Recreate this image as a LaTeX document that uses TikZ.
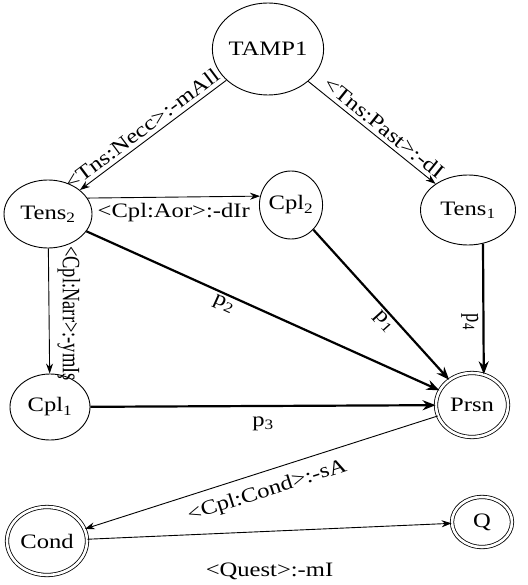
\documentclass[tikz,border=0pt]{standalone}
\usepackage{fontspec}
\setmainfont{Liberation Serif}[FakeStretch=1.2]
% narrower cut of the same face for labels running down the page
\newfontfamily\vertfont{Liberation Serif}[FakeStretch=0.74]
\usetikzlibrary{shapes.geometric,arrows.meta}
\begin{document}
\begin{tikzpicture}[x=1pt,y=-1pt,
  state/.style={ellipse,draw,line width=0.9pt,inner sep=0pt,
    font=\fontsize{20.5}{24}\selectfont},
  final/.style={state,double,double distance=2.6pt,line width=0.8pt},
  tr/.style={-{Stealth[length=10pt,width=7pt]},line width=0.9pt},
  pth/.style={-{Stealth[length=13pt,width=10pt]},line width=2.2pt},
  lbl/.style={font=\fontsize{20.5}{24}\selectfont,inner sep=2pt},
  vlbl/.style={font=\vertfont\fontsize{25}{29}\selectfont,rotate=-90}]
\useasboundingbox (0,0) rectangle (527,585);

% states
\node[state,minimum width=105pt,minimum height=92pt] (tamp) at (268,49) {TAMP1};
\node[state,minimum width=88pt,minimum height=68pt] (tens2) at (48,214) {Tens\textsubscript{2}};
\node[state,minimum width=58pt,minimum height=68pt] (cpl2) at (291,205) {Cpl\textsubscript{2}};
\node[state,minimum width=95pt,minimum height=70pt] (tens1) at (468,210) {Tens\textsubscript{1}};
\node[state,minimum width=80pt,minimum height=66pt] (cpl1) at (50,407) {Cpl\textsubscript{1}};
\node[final,minimum width=72pt,minimum height=64pt] (prsn) at (472,405) {Prsn};
\node[final,minimum width=80pt,minimum height=68pt] (cond) at (47,541) {Cond};
\node[final,minimum width=60pt,minimum height=50pt] (q) at (482,522) {Q};

% morpheme transitions
\draw[tr] (tamp) -- node[lbl,sloped,above=2pt,pos=0.53] {<Tns:Necc>:-mAll} (tens2);
\draw[tr] (tamp) -- node[lbl,sloped,above=2pt,pos=0.54] {<Tns:Past>:-dI} (tens1);
\draw[tr] (tens2.22) -- node[lbl,below=4pt] {<Cpl:Aor>:-dIr} (cpl2.164);
\draw[tr] (tens2) -- node[vlbl,anchor=south,pos=0.52,inner ysep=8pt,inner xsep=0pt] {<Cpl:Narr>:-ymIş} (cpl1);
% paths into the person state
\draw[pth] (tens2) -- node[lbl,sloped,below,pos=0.4] {p\textsubscript{2}} (prsn);
\draw[pth] (cpl2) -- node[lbl,sloped,below,pos=0.57] {p\textsubscript{1}} (prsn);
\draw[pth] (tens1.-66) -- node[vlbl,anchor=north,pos=0.6,inner ysep=4pt] {p\textsubscript{4}} (prsn.69);
\draw[pth] (cpl1) -- node[lbl,below=8pt] {p\textsubscript{3}} (prsn);
% final states
\draw[tr] (prsn) -- node[lbl,sloped,below=8pt] {<Cpl:Cond>:-sA} (cond);
\draw[tr] (cond) -- node[lbl,below=29pt] {<Quest>:-mI} (q);
\end{tikzpicture}
\end{document}
